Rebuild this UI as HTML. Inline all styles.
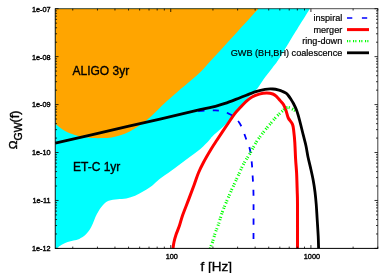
<!DOCTYPE html><html><head><meta charset="utf-8"><style>html,body{margin:0;padding:0;background:#fff;}svg{display:block;will-change:transform;}text{font-family:"Liberation Sans",sans-serif;fill:#000;}</style></head><body>
<svg width="389" height="273" viewBox="0 0 389 273">
<rect width="389" height="273" fill="#fff"/>
<path d="M55.25 8.70 L310.00 8.50 C306.50 14.15 294.30 33.82 289.00 42.40 C283.70 50.98 281.15 55.52 278.20 60.00 C275.25 64.48 273.73 66.08 271.30 69.30 C268.87 72.52 265.92 76.10 263.60 79.30 C261.28 82.50 259.67 85.72 257.40 88.50 C255.13 91.28 253.17 92.42 250.00 96.00 C246.83 99.58 242.23 105.52 238.40 110.00 C234.57 114.48 231.23 118.62 227.00 122.90 C222.77 127.18 215.93 132.85 213.00 135.70 C210.07 138.55 211.50 137.78 209.40 140.00 C207.30 142.22 204.30 145.70 200.40 149.00 C196.50 152.30 190.80 156.20 186.00 159.80 C181.20 163.40 176.10 167.30 171.60 170.60 C167.10 173.90 162.15 177.15 159.00 179.60 C155.85 182.05 155.22 183.38 152.70 185.30 C150.18 187.22 146.83 189.35 143.90 191.10 C140.97 192.85 138.03 194.57 135.10 195.80 C132.17 197.03 129.23 197.92 126.30 198.50 C123.37 199.08 120.43 198.92 117.50 199.30 C114.57 199.68 111.15 199.82 108.70 200.80 C106.25 201.78 104.77 203.00 102.80 205.20 C100.83 207.40 98.85 210.33 96.90 214.00 C94.95 217.67 93.05 223.68 91.10 227.20 C89.15 230.72 87.17 233.15 85.20 235.10 C83.23 237.05 81.25 238.02 79.30 238.90 C77.35 239.78 75.45 239.90 73.50 240.40 C71.55 240.90 69.57 241.17 67.60 241.90 C65.63 242.63 63.55 243.70 61.70 244.80 C59.85 245.90 57.37 247.88 56.50 248.50 L55.25 248.40 Z" fill="#00ffff"/>
<path d="M55.25 8.70 L258.60 8.50 C255.43 11.97 245.23 23.13 239.60 29.30 C233.97 35.47 229.73 40.12 224.80 45.50 C219.87 50.88 213.97 57.27 210.00 61.60 C206.03 65.93 204.05 68.47 201.00 71.50 C197.95 74.53 195.65 76.38 191.70 79.80 C187.75 83.22 181.87 88.07 177.30 92.00 C172.73 95.93 167.92 100.07 164.30 103.40 C160.68 106.73 158.52 109.23 155.60 112.00 C152.68 114.77 149.73 117.58 146.80 120.00 C143.87 122.42 140.93 124.55 138.00 126.50 C135.07 128.45 132.13 130.25 129.20 131.70 C126.27 133.15 123.33 134.23 120.40 135.20 C117.47 136.17 114.53 137.02 111.60 137.50 C108.67 137.98 105.73 138.00 102.80 138.10 C99.87 138.20 97.42 138.33 94.00 138.10 C90.58 137.87 85.72 137.28 82.30 136.70 C78.88 136.12 76.43 135.58 73.50 134.60 C70.57 133.62 67.70 132.57 64.70 130.80 C61.70 129.03 57.03 125.13 55.50 124.00 Z" fill="#ffa500"/>
<path d="M197.00 111.40 C198.33 111.25 202.17 110.67 205.00 110.50 C207.83 110.33 211.17 110.32 214.00 110.40 C216.83 110.48 219.50 110.43 222.00 111.00 C224.50 111.57 227.00 112.83 229.00 113.80 C231.00 114.77 232.33 115.38 234.00 116.80 C235.67 118.22 237.50 120.13 239.00 122.30 C240.50 124.47 242.00 127.55 243.00 129.80 C244.00 132.05 244.25 133.63 245.00 135.80 C245.75 137.97 246.67 140.47 247.50 142.80 C248.33 145.13 249.28 146.43 250.00 149.80 C250.72 153.17 251.35 158.47 251.80 163.00 C252.25 167.53 252.42 171.67 252.70 177.00 C252.98 182.33 253.37 184.50 253.50 195.00 C253.63 205.50 253.50 232.50 253.50 240.00" fill="none" stroke="#0000ff" stroke-width="1.8" stroke-dasharray="6 8.3" stroke-dashoffset="-1.5"/>
<path d="M173.00 248.40 C173.17 247.33 173.50 244.27 174.00 242.00 C174.50 239.73 175.10 237.50 176.00 234.80 C176.90 232.10 178.28 229.10 179.40 225.80 C180.52 222.50 181.15 219.40 182.70 215.00 C184.25 210.60 186.80 204.40 188.70 199.40 C190.60 194.40 192.48 189.40 194.10 185.00 C195.72 180.60 196.80 176.83 198.40 173.00 C200.00 169.17 201.57 166.00 203.70 162.00 C205.83 158.00 208.98 152.67 211.20 149.00 C213.42 145.33 214.37 144.00 217.00 140.00 C219.63 136.00 224.03 129.40 227.00 125.00 C229.97 120.60 232.60 116.50 234.80 113.60 C237.00 110.70 238.30 109.65 240.20 107.60 C242.10 105.55 244.23 103.07 246.20 101.30 C248.17 99.53 249.83 98.20 252.00 97.00 C254.17 95.80 256.77 94.77 259.20 94.10 C261.63 93.43 264.33 93.02 266.60 93.00 C268.87 92.98 271.10 93.37 272.80 94.00 C274.50 94.63 275.57 95.70 276.80 96.80 C278.03 97.90 279.07 99.27 280.20 100.60 C281.33 101.93 282.60 103.02 283.60 104.80 C284.60 106.58 285.42 109.10 286.20 111.30 C286.98 113.50 287.25 115.82 288.30 118.00 C289.35 120.18 291.58 122.13 292.50 124.40 C293.42 126.67 293.42 128.60 293.80 131.60 C294.18 134.60 294.50 137.83 294.80 142.40 C295.10 146.97 295.30 153.90 295.60 159.00 C295.90 164.10 296.33 167.67 296.60 173.00 C296.87 178.33 297.05 185.83 297.20 191.00 C297.35 196.17 297.45 194.43 297.50 204.00 C297.55 213.57 297.50 241.00 297.50 248.40" fill="none" stroke="#ff0000" stroke-width="3" stroke-linejoin="round"/>
<path d="M210.20 248.40 C210.33 248.00 210.62 247.07 211.00 246.00 C211.38 244.93 211.80 244.17 212.50 242.00 C213.20 239.83 214.18 236.00 215.20 233.00 C216.22 230.00 217.33 227.70 218.60 224.00 C219.87 220.30 221.03 215.57 222.80 210.80 C224.57 206.03 226.90 200.70 229.20 195.40 C231.50 190.10 234.20 184.23 236.60 179.00 C239.00 173.77 241.38 168.22 243.60 164.00 C245.82 159.78 247.78 157.35 249.90 153.70 C252.02 150.05 254.17 145.53 256.30 142.10 C258.43 138.67 260.58 135.88 262.70 133.10 C264.82 130.32 266.90 127.93 269.00 125.40 C271.10 122.87 273.22 120.17 275.30 117.90 C277.38 115.63 279.63 113.48 281.50 111.80 C283.37 110.12 284.97 108.40 286.50 107.80 C288.03 107.20 289.25 107.70 290.70 108.20 C292.15 108.70 294.45 110.37 295.20 110.80" fill="none" stroke="#00ff00" stroke-width="3" stroke-dasharray="1.1 1.2 1.1 2.6" stroke-dashoffset="0"/>
<path d="M55.25 143.10 C62.71 141.38 82.54 136.80 100.00 132.80 C117.46 128.80 143.33 122.95 160.00 119.10 C176.67 115.25 190.77 111.83 200.00 109.70 C209.23 107.57 211.23 107.35 215.40 106.30 C219.57 105.25 220.90 104.83 225.00 103.40 C229.10 101.97 234.87 99.67 240.00 97.70 C245.13 95.73 251.62 93.00 255.80 91.60 C259.98 90.20 262.27 89.73 265.10 89.30 C267.93 88.87 270.48 88.87 272.80 89.00 C275.12 89.13 277.30 89.67 279.00 90.10 C280.70 90.53 281.83 91.08 283.00 91.60 C284.17 92.12 285.12 92.55 286.00 93.20 C286.88 93.85 287.50 94.53 288.30 95.50 C289.10 96.47 289.98 97.75 290.80 99.00 C291.62 100.25 292.23 101.12 293.20 103.00 C294.17 104.88 295.55 107.47 296.60 110.30 C297.65 113.13 298.38 115.85 299.50 120.00 C300.62 124.15 302.22 130.87 303.30 135.20 C304.38 139.53 305.22 142.37 306.00 146.00 C306.78 149.63 307.25 153.40 308.00 157.00 C308.75 160.60 309.63 163.73 310.50 167.60 C311.37 171.47 312.45 176.13 313.20 180.20 C313.95 184.27 314.50 188.03 315.00 192.00 C315.50 195.97 315.85 199.67 316.20 204.00 C316.55 208.33 316.77 212.67 317.10 218.00 C317.43 223.33 317.95 230.93 318.20 236.00 C318.45 241.07 318.53 246.33 318.60 248.40" fill="none" stroke="#000" stroke-width="2.8" stroke-linejoin="round"/>
<path d="M54.85 8.70 H378.20" stroke="#000" stroke-width="0.7"/><path d="M54.85 248.40 H378.20" stroke="#000" stroke-width="1.0"/><path d="M55.25 8.70 V248.40" stroke="#000" stroke-width="0.9"/><path d="M377.80 8.70 V248.40" stroke="#000" stroke-width="0.75"/>
<path d="M55.25 248.40 h3.30 M377.80 248.40 h-3.30 M55.25 233.97 h1.80 M377.80 233.97 h-1.80 M55.25 225.53 h1.80 M377.80 225.53 h-1.80 M55.25 219.54 h1.80 M377.80 219.54 h-1.80 M55.25 214.89 h1.80 M377.80 214.89 h-1.80 M55.25 211.10 h1.80 M377.80 211.10 h-1.80 M55.25 207.89 h1.80 M377.80 207.89 h-1.80 M55.25 205.11 h1.80 M377.80 205.11 h-1.80 M55.25 202.65 h1.80 M377.80 202.65 h-1.80 M55.25 200.46 h3.30 M377.80 200.46 h-3.30 M55.25 186.03 h1.80 M377.80 186.03 h-1.80 M55.25 177.59 h1.80 M377.80 177.59 h-1.80 M55.25 171.60 h1.80 M377.80 171.60 h-1.80 M55.25 166.95 h1.80 M377.80 166.95 h-1.80 M55.25 163.16 h1.80 M377.80 163.16 h-1.80 M55.25 159.95 h1.80 M377.80 159.95 h-1.80 M55.25 157.17 h1.80 M377.80 157.17 h-1.80 M55.25 154.71 h1.80 M377.80 154.71 h-1.80 M55.25 152.52 h3.30 M377.80 152.52 h-3.30 M55.25 138.09 h1.80 M377.80 138.09 h-1.80 M55.25 129.65 h1.80 M377.80 129.65 h-1.80 M55.25 123.66 h1.80 M377.80 123.66 h-1.80 M55.25 119.01 h1.80 M377.80 119.01 h-1.80 M55.25 115.22 h1.80 M377.80 115.22 h-1.80 M55.25 112.01 h1.80 M377.80 112.01 h-1.80 M55.25 109.23 h1.80 M377.80 109.23 h-1.80 M55.25 106.77 h1.80 M377.80 106.77 h-1.80 M55.25 104.58 h3.30 M377.80 104.58 h-3.30 M55.25 90.15 h1.80 M377.80 90.15 h-1.80 M55.25 81.71 h1.80 M377.80 81.71 h-1.80 M55.25 75.72 h1.80 M377.80 75.72 h-1.80 M55.25 71.07 h1.80 M377.80 71.07 h-1.80 M55.25 67.28 h1.80 M377.80 67.28 h-1.80 M55.25 64.07 h1.80 M377.80 64.07 h-1.80 M55.25 61.29 h1.80 M377.80 61.29 h-1.80 M55.25 58.83 h1.80 M377.80 58.83 h-1.80 M55.25 56.64 h3.30 M377.80 56.64 h-3.30 M55.25 42.21 h1.80 M377.80 42.21 h-1.80 M55.25 33.77 h1.80 M377.80 33.77 h-1.80 M55.25 27.78 h1.80 M377.80 27.78 h-1.80 M55.25 23.13 h1.80 M377.80 23.13 h-1.80 M55.25 19.34 h1.80 M377.80 19.34 h-1.80 M55.25 16.13 h1.80 M377.80 16.13 h-1.80 M55.25 13.35 h1.80 M377.80 13.35 h-1.80 M55.25 10.89 h1.80 M377.80 10.89 h-1.80 M55.25 8.70 h3.30 M377.80 8.70 h-3.30 M170.74 248.40 v-3.30 M170.74 8.70 v3.30 M310.92 248.40 v-3.30 M310.92 8.70 v3.30 M72.76 248.40 v-1.80 M72.76 8.70 v1.80 M97.45 248.40 v-1.80 M97.45 8.70 v1.80 M114.96 248.40 v-1.80 M114.96 8.70 v1.80 M128.55 248.40 v-1.80 M128.55 8.70 v1.80 M139.64 248.40 v-1.80 M139.64 8.70 v1.80 M149.03 248.40 v-1.80 M149.03 8.70 v1.80 M157.16 248.40 v-1.80 M157.16 8.70 v1.80 M164.33 248.40 v-1.80 M164.33 8.70 v1.80 M212.94 248.40 v-1.80 M212.94 8.70 v1.80 M237.62 248.40 v-1.80 M237.62 8.70 v1.80 M255.14 248.40 v-1.80 M255.14 8.70 v1.80 M268.72 248.40 v-1.80 M268.72 8.70 v1.80 M279.82 248.40 v-1.80 M279.82 8.70 v1.80 M289.21 248.40 v-1.80 M289.21 8.70 v1.80 M297.33 248.40 v-1.80 M297.33 8.70 v1.80 M304.50 248.40 v-1.80 M304.50 8.70 v1.80 M353.12 248.40 v-1.80 M353.12 8.70 v1.80 M377.80 248.40 v-1.80 M377.80 8.70 v1.80" fill="none" stroke="#000" stroke-width="0.8"/>
<text transform="translate(50.60 251.05) scale(0.935 1)" font-size="7.8" text-anchor="end" stroke="#000" stroke-width="0.4">1e-12</text>
<text transform="translate(50.60 203.19) scale(0.935 1)" font-size="7.8" text-anchor="end" stroke="#000" stroke-width="0.4">1e-11</text>
<text transform="translate(50.60 155.33) scale(0.935 1)" font-size="7.8" text-anchor="end" stroke="#000" stroke-width="0.4">1e-10</text>
<text transform="translate(50.60 107.47) scale(0.935 1)" font-size="7.8" text-anchor="end" stroke="#000" stroke-width="0.4">1e-09</text>
<text transform="translate(50.60 59.61) scale(0.935 1)" font-size="7.8" text-anchor="end" stroke="#000" stroke-width="0.4">1e-08</text>
<text transform="translate(50.60 11.75) scale(0.935 1)" font-size="7.8" text-anchor="end" stroke="#000" stroke-width="0.4">1e-07</text>
<text transform="translate(171.74 258.80) scale(0.935 1)" font-size="7.8" text-anchor="middle" stroke="#000" stroke-width="0.4">100</text>
<text transform="translate(311.92 258.80) scale(0.935 1)" font-size="7.8" text-anchor="middle" stroke="#000" stroke-width="0.4">1000</text>
<text x="216.3" y="271" font-size="13.5" text-anchor="middle" stroke="#000" stroke-width="0.35">f [Hz]</text>
<text transform="translate(17.0 149.3) rotate(-90)" stroke="#000" stroke-width="0.4"><tspan font-size="11.8">&#937;</tspan><tspan font-size="10.5" dy="5.3">GW</tspan><tspan font-size="12.5" dy="-3.0">(f)</tspan></text>
<text x="72.5" y="75.3" font-size="12" stroke="#000" stroke-width="0.35">ALIGO 3yr</text>
<text x="73" y="171.3" font-size="12" stroke="#000" stroke-width="0.35">ET-C 1yr</text>
<text x="342.3" y="21.20" font-size="9.15" text-anchor="end" stroke="#000" stroke-width="0.2">inspiral</text>
<text x="342.3" y="32.80" font-size="9.15" text-anchor="end" stroke="#000" stroke-width="0.2">merger</text>
<text x="342.3" y="44.40" font-size="9.15" text-anchor="end" stroke="#000" stroke-width="0.2">ring-down</text>
<text x="342.3" y="56.00" font-size="9.15" text-anchor="end" stroke="#000" stroke-width="0.2">GWB (BH,BH) coalescence</text>
<path d="M347 18.00 H369" stroke="#0000ff" stroke-width="1.3" stroke-dasharray="5.3 9.6" fill="none"/>
<path d="M347 29.60 H369" stroke="#ff0000" stroke-width="3" fill="none"/>
<path d="M347 41.20 H369" stroke="#00ff00" stroke-width="2.2" stroke-dasharray="1.1 1.2 1.1 2.6" fill="none"/>
<path d="M347 52.80 H369" stroke="#000" stroke-width="2.8" fill="none"/>
</svg></body></html>
